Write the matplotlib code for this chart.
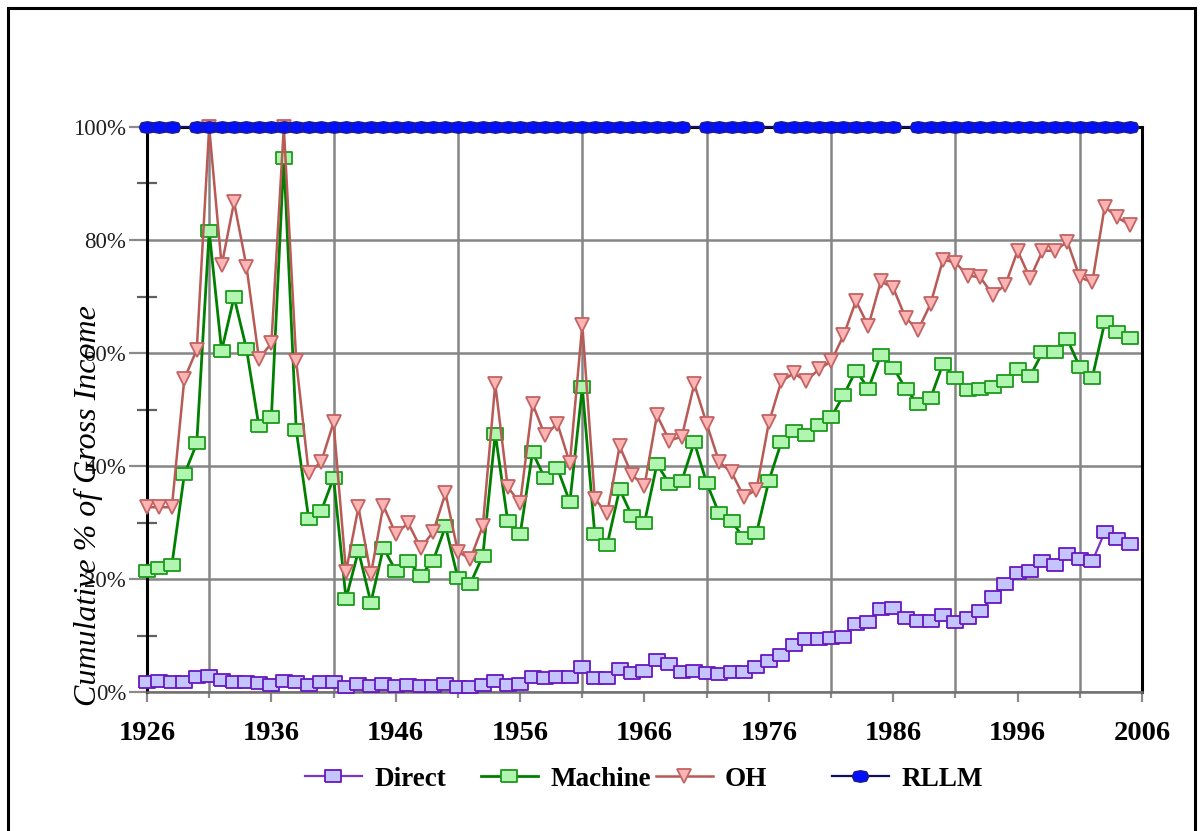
import numpy as np
import matplotlib
matplotlib.use("Agg")
import matplotlib.pyplot as plt
from matplotlib.path import Path
from matplotlib.patches import Rectangle
from matplotlib.ticker import FixedLocator, FuncFormatter

years = list(range(1926, 2006))

direct = [1.7, 1.9, 1.7, 1.7, 2.6, 2.9, 2.1, 1.7, 1.7, 1.6,
          1.3, 2.0, 1.7, 1.3, 1.7, 1.7, 0.8, 1.4, 1.0, 1.5,
          1.0, 1.2, 1.0, 1.1, 1.5, 0.8, 0.8, 1.2, 2.0, 1.2,
          1.5, 2.6, 2.4, 2.6, 2.6, 4.5, 2.4, 2.4, 4.0, 3.3,
          3.7, 5.6, 4.9, 3.6, 3.8, 3.3, 3.1, 3.6, 3.6, 4.5,
          5.4, 6.6, 8.3, 9.4, 9.4, 9.6, 9.8, 12.0, 12.4, 14.7,
          14.8, 13.1, 12.5, 12.5, 13.6, 12.4, 13.1, 14.3, 16.9, 19.2,
          21.0, 21.5, 23.2, 22.5, 24.4, 23.6, 23.1, 28.3, 27.1, 26.2]

machine = [21.5, 22.0, 22.5, 38.5, 44.0, 81.6, 60.4, 69.9, 60.7, 47.0,
           48.6, 94.5, 46.3, 30.7, 32.0, 37.9, 16.5, 25.0, 15.8, 25.5,
           21.5, 23.2, 20.6, 23.2, 29.3, 20.1, 19.2, 24.1, 45.7, 30.3,
           27.9, 42.4, 37.8, 39.6, 33.6, 53.9, 28.0, 26.1, 35.9, 31.1,
           30.0, 40.3, 36.9, 37.4, 44.2, 37.0, 31.6, 30.2, 27.2, 28.1,
           37.4, 44.2, 46.2, 45.5, 47.3, 48.6, 52.5, 56.9, 53.7, 59.6,
           57.4, 53.7, 50.9, 52.0, 58.1, 55.5, 53.4, 53.6, 53.9, 55.1,
           57.1, 55.9, 60.1, 60.1, 62.4, 57.5, 55.6, 65.4, 63.8, 62.7]

oh = [32.7, 32.7, 32.7, 55.4, 60.6, 100.0, 75.5, 86.7, 75.3, 59.0,
      61.7, 100.0, 58.5, 38.8, 40.7, 47.7, 21.3, 32.7, 20.8, 33.0,
      28.0, 29.9, 25.5, 28.3, 35.2, 24.8, 23.6, 29.4, 54.5, 36.3,
      33.4, 51.0, 45.4, 47.5, 40.5, 65.0, 34.2, 31.6, 43.5, 38.4,
      36.5, 49.0, 44.5, 45.2, 54.5, 47.5, 40.7, 38.9, 34.5, 35.8,
      47.7, 55.0, 56.4, 55.0, 57.1, 58.5, 63.1, 69.2, 64.8, 72.7,
      71.5, 66.2, 64.1, 68.7, 76.5, 76.0, 73.7, 73.4, 70.3, 72.0,
      78.1, 73.2, 78.1, 78.1, 79.7, 73.4, 72.5, 85.9, 84.0, 82.7]

# RLLM sits at 100% except a few missing years
rllm_missing = [1929, 1970, 1976, 1987]
rllm = [np.nan if y in rllm_missing else 100.0 for y in years]

labels = ["Direct", "Machine", "OH", "RLLM"]
year_ticks = list(range(1926, 2007, 10))
grid_years = list(range(1931, 2006, 10))
pct_ticks = [0, 20, 40, 60, 80, 100]

W, H = 1203, 831
fig = plt.figure(figsize=(W / 100, H / 100), dpi=100)
ax = fig.add_axes([147 / W, 1 - 692 / H, (1142 - 147) / W, (692 - 127) / H])

# flat boxes and squashed dots like the original markers
rect = Path([(-1, -0.72), (1, -0.72), (1, 0.72), (-1, 0.72), (-1, -0.72)])
oval = Path([(-1, 0), (-0.75, -0.55), (0, -0.7), (0.75, -0.55), (1, 0),
             (0.75, 0.55), (0, 0.7), (-0.75, 0.55), (-1, 0)])

x = np.array(years)
styles = [
    dict(color="#7a35c8", marker=rect, mfc="#c4c4ff", mec="#6618c0", ms=11.5, lw=1.6),
    dict(color="#008000", marker=rect, mfc="#b0f5b0", mec="#1c9a1c", ms=11.5, lw=2.0),
    dict(color="#b85a55", marker="v", mfc="#ffb4b4", mec="#c06464", ms=10.5, lw=1.8),
    dict(color="#10105a", marker=oval, mfc="#0010ff", mec="#1a1aa0", ms=11.5, lw=1.6),
]
handles = []
for i, (vals, st) in enumerate(zip([direct, machine, oh, rllm], styles)):
    v = np.array(vals, dtype=float)
    m = ~np.isnan(v)
    ln, = ax.plot(x[m], v[m], mew=1.3, clip_on=False, zorder=3 + i, **st)
    handles.append(ln)

ax.set_xlim(1926, 2006)
ax.set_ylim(0, 100)

ax.xaxis.set_major_locator(FixedLocator(year_ticks))
ax.xaxis.set_minor_locator(FixedLocator(grid_years))
ax.yaxis.set_major_locator(FixedLocator(pct_ticks))
ax.yaxis.set_minor_locator(FixedLocator([10, 30, 50, 70, 90]))
ax.yaxis.set_major_formatter(FuncFormatter(lambda v, p: f"{v:.0f}%"))

ax.grid(False)
ax.grid(True, which="minor", axis="x", color="#858585", lw=1.8)
ax.grid(True, which="major", axis="y", color="#858585", lw=1.8)
ax.set_axisbelow(True)

ax.tick_params(axis="x", which="major", direction="out", length=7, width=1.6,
               color="#8a8a8a", pad=14, labelsize=20.5)
ax.tick_params(axis="x", which="minor", direction="out", length=4.5, width=1.6,
               color="#8a8a8a")
ax.tick_params(axis="y", which="major", direction="out", length=13, width=1.6,
               color="#8a8a8a", pad=2, labelsize=16.5)
ax.tick_params(axis="y", which="minor", direction="inout", length=14, width=1.6,
               color="#606060")
for t in ax.get_xticklabels():
    t.set_fontfamily("Liberation Serif")
    t.set_fontweight("bold")
for t in ax.get_yticklabels():
    t.set_fontfamily("Liberation Serif")
    t.set_color("#202020")

for side in ["left", "right", "top"]:
    ax.spines[side].set_color("black")
    ax.spines[side].set_linewidth(2.2)
ax.spines["bottom"].set_color("#707070")
ax.spines["bottom"].set_linewidth(1.8)

fig.text(88 / W, 1 - 506 / H, "Cumulative % of Gross Income", rotation=90,
         ha="center", va="center", fontsize=23, style="italic",
         family="Liberation Serif")

# legend entries sit in fixed-width slots
slot_x = [305, 481, 656, 832]
for h, lab, sx in zip(handles, labels, slot_x):
    fig.legend([h], [lab], loc="center left", bbox_to_anchor=(sx / W, 1 - 779 / H),
               frameon=False, borderpad=0, borderaxespad=0, handlelength=2.1,
               handletextpad=0.45, numpoints=1,
               prop=dict(family="Liberation Serif", weight="bold", size=19.5))

fig.patches.append(Rectangle((8 / W, -0.01), (1195 - 8) / W, 1.01 - 8 / H,
                             transform=fig.transFigure, fill=False,
                             edgecolor="black", lw=2.2))

fig.savefig("out.png", dpi=100)
